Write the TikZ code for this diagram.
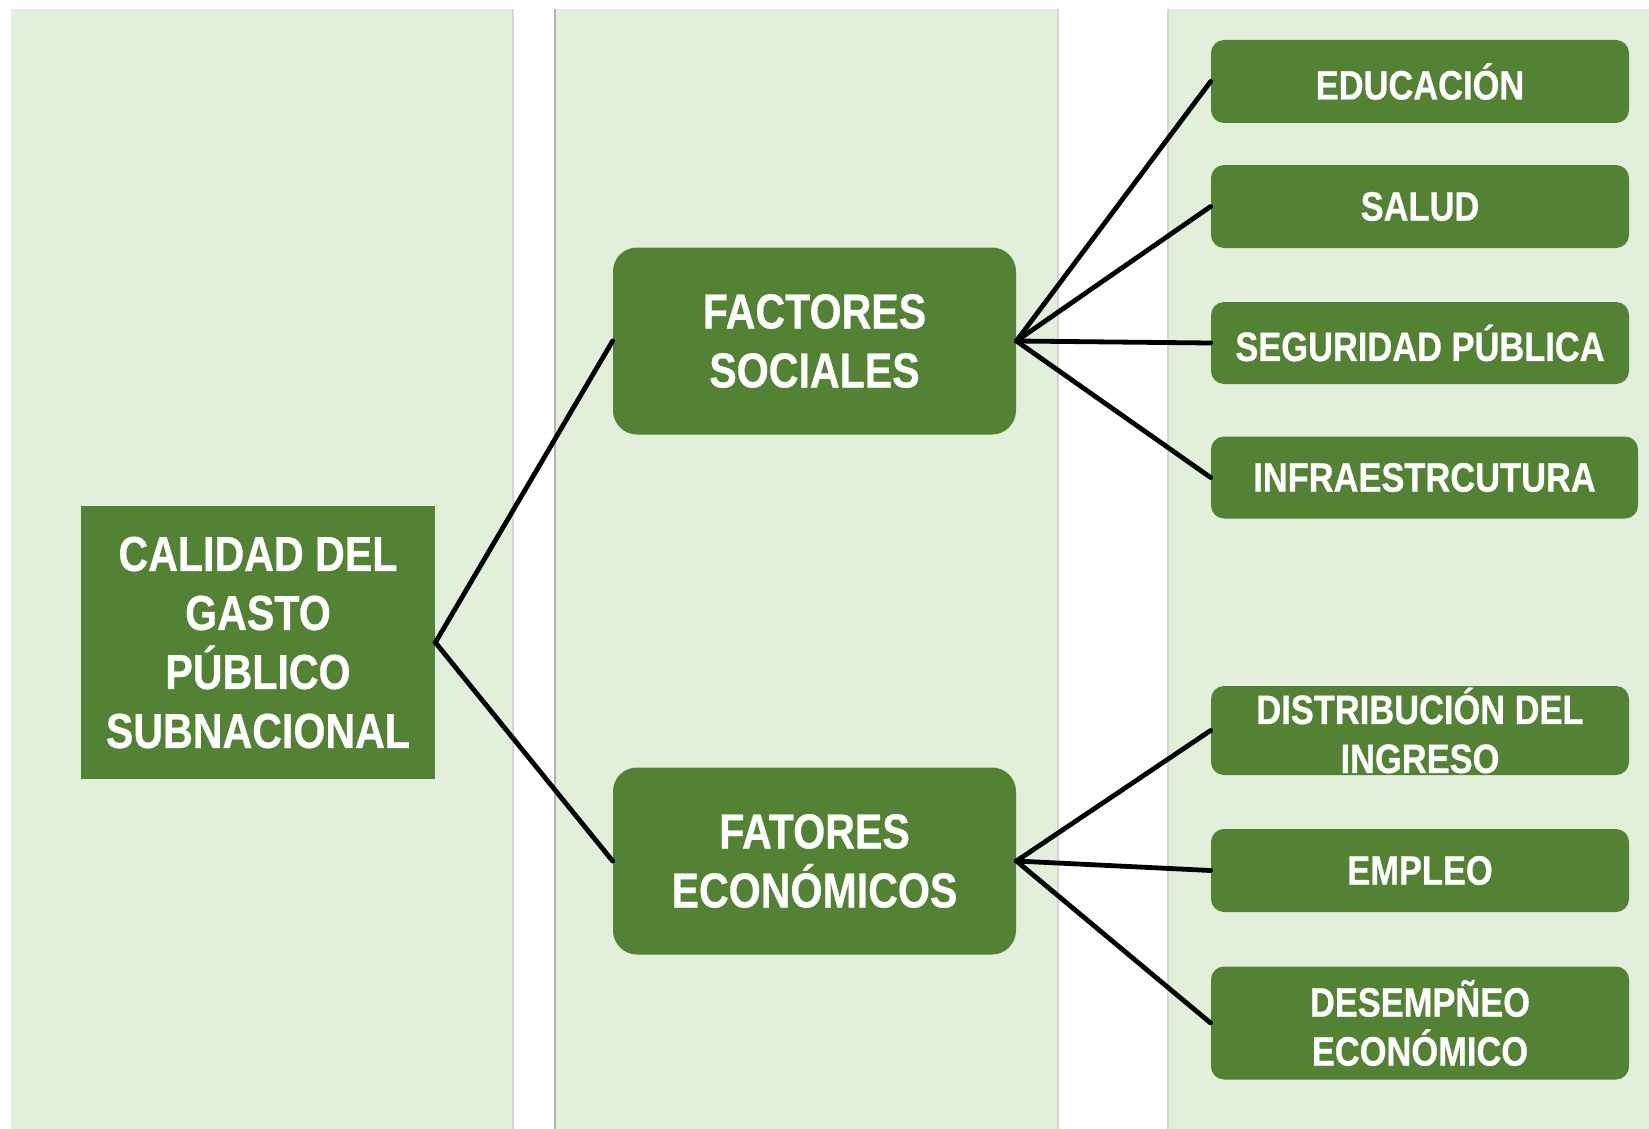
\documentclass[tikz,border=0pt]{standalone}
\usepackage{fontspec}
\setmainfont{Liberation Sans}[FakeStretch=0.84, BoldFeatures={FakeBold=0.6}]
\definecolor{boxgreen}{HTML}{548235}
\definecolor{panelbg}{HTML}{E2EFDA}
\definecolor{edgegray}{HTML}{B4B4B4}
\definecolor{edgelight}{HTML}{CFD8CB}
\tikzset{
  greenbox/.style={fill=boxgreen, text=white, align=center, inner sep=0pt},
  bigbox/.style={greenbox, font=\bfseries\fontsize{24.5}{29.5}\selectfont},
  midbox/.style={bigbox, rounded corners=12pt, minimum width=201.5pt, minimum height=93.5pt},
  smallbox/.style={greenbox, font=\bfseries\fontsize{20.5}{24.5}\selectfont, rounded corners=6.5pt, minimum width=209pt},
  link/.style={line width=2.4pt, black, line cap=round},
  panelfill/.style={fill=panelbg}
}
\begin{document}
\begin{tikzpicture}[x=0.5pt,y=-0.5pt]
\useasboundingbox (0,0) rectangle (1649,1129);
% panels
\fill[panelfill] (11,9) rectangle (513,1129);
\fill[panelfill] (555,9) rectangle (1058,1129);
\fill[panelfill] (1168,9) rectangle (1649,1129);
\draw[edgelight, line width=0.6pt] (513,9) -- (513,1129);
\draw[edgegray, line width=0.6pt] (555,9) -- (555,1129);
\draw[edgelight, line width=0.6pt] (1058,9) -- (1058,1129);
\draw[edgelight, line width=0.6pt] (1168,9) -- (1168,1129);
% main node
\node[bigbox, minimum width=177pt, minimum height=136.5pt] (main) at (258,642.5)
  {CALIDAD DEL\\GASTO\\PÚBLICO\\SUBNACIONAL};
% middle nodes
\node[midbox] (fs) at (814.5,341) {FACTORES\\SOCIALES};
\node[midbox] (fe) at (814.5,861) {FATORES\\ECONÓMICOS};
% right nodes
\node[smallbox, minimum height=41.5pt] (edu) at (1420,81.5) {EDUCACIÓN};
\node[smallbox, minimum height=41.5pt] (sal) at (1420,206.5) {SALUD};
\node[smallbox, minimum height=41pt] (seg) at (1420,343) {SEGURIDAD PÚBLICA};
\node[smallbox, minimum height=41pt, minimum width=213.5pt] (inf) at (1424.5,477.5) {INFRAESTRCUTURA};
\node[smallbox, minimum height=44.5pt] (dis) at (1420,730.5) {DISTRIBUCIÓN DEL\\INGRESO};
\node[smallbox, minimum height=41.5pt] (emp) at (1420,870.5) {EMPLEO};
\node[smallbox, minimum height=56.5pt] (des) at (1420,1023) {DESEMPÑEO\\ECONÓMICO};
% connectors
\draw[link] (fs.west) -- (main.east) -- (fe.west);
\draw[link] (fs.east) -- (edu.west);
\draw[link] (fs.east) -- (sal.west);
\draw[link] (fs.east) -- (seg.west);
\draw[link] (fs.east) -- (inf.west);
\draw[link] (fe.east) -- (dis.west);
\draw[link] (fe.east) -- (emp.west);
\draw[link] (fe.east) -- (des.west);
\end{tikzpicture}
\end{document}
